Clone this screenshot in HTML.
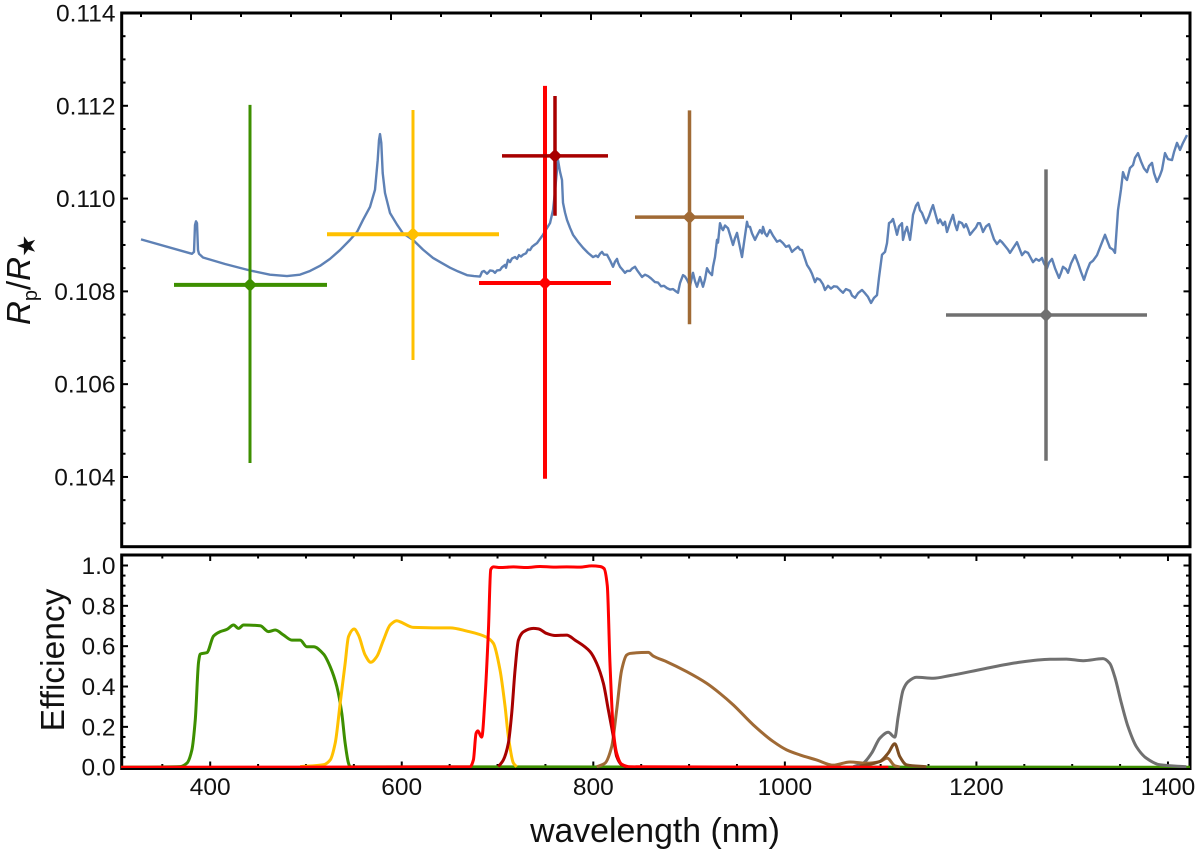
<!DOCTYPE html>
<html lang="en">
<head>
<meta charset="utf-8">
<title>Transmission spectrum and filter efficiency</title>
<style>
html,body{margin:0;padding:0;background:#fff;}
svg{display:block;font-family:"Liberation Sans",Arial,sans-serif;}
</style>
</head>
<body>
<svg id="chart" width="1200" height="856" viewBox="0 0 1200 856" xmlns="http://www.w3.org/2000/svg">
  <defs>
    <clipPath id="clip-top"><rect x="121" y="12" width="1069" height="535"/></clipPath>
    <clipPath id="clip-bottom"><rect x="121" y="554" width="1069" height="214"/></clipPath>
  </defs>
  <g id="top-panel"></g>
  <g id="bottom-panel"></g>
  <text transform="translate(30,325) rotate(-90)" font-size="33" fill="#111"><tspan font-style="italic">R</tspan><tspan font-size="20" dy="7">p</tspan><tspan dy="-7">/</tspan><tspan font-style="italic">R</tspan><tspan font-size="25" dy="5" font-family="'DejaVu Sans',sans-serif">★</tspan></text>
  <text transform="translate(64,660) rotate(-90)" font-size="33.5" text-anchor="middle" fill="#111">Efficiency</text>
  <text x="655" y="842" font-size="33.8" text-anchor="middle" fill="#111">wavelength (nm)</text>
</svg>
<script>
// ---- upper panel: model spectrum ----
const spectrumWave = [
350,401,403,404,405,406,407,408,412,434,
459,479,496,509,
519,529,539,549,559,566,572,579,584,586.7,
588,589,590.3,591.7,594,599,606,612,622,632,
642,650,659,667,676,683,689,691,693,694,
696,697,699,702,704,706,709,711,714,715,
717,719,721,724,726,728,730,732,735,737,
739,741,744,746,749,752,755,757,759,762,
764,766,767,769,771,772,774,776,779,782,
787,792,797,802,805,807,809,811,813,816,
819,822,824,826,827,829,831,834,836,839,
841,844,846,848,851,854,857,860,864,867,
870,873,876,879,882,885,887,889,892,894,
896,899,902,904,906,909,912,914,916,918,
921,922,924,926,927,929,931,932,934,937,
939,942,944,946,948,951,953,956,957,959,
961,964,966,969,971,972,974,976,978,979,
982,986,989,992,995,998,1001,1004,1007,1009,
1011,1014,1016,1019,1021,1024,1026,1029,1032,1034,
1037,1040,1043,1046,1049,1052,1055,1059,1061,1064,
1067,1071,1074,1077,1080,1083,1086,1088,1091,1094,
1096,1097,1098,1100,1102,1104,1106,1108,1111,1112,
1114,1116,1119,1121,1122,1125,1127,1129,1131,1133,
1135,1138,1140,1142,1144,1147,1149,1152,1154,1156,
1159,1162,1164,1166,1168,1171,1173,1175,1177,1179,
1182,1185,1187,1189,1191,1192,1195,1198,1201,1203,
1206,1209,1211,1214,1217,1219,1222,1226,1228,1231,
1234,1237,1239,1242,1245,1248,1251,1253,1256,1258,
1261,1264,1268,1270,1272,1275,1277,1280,1284,1287,
1290,1293,1296,1299,1302,1306,1310,1314,1317,1319,
1322,1324,1327,1330,1332,1334,1336,1339,1342,1344,
1347,1350,1353,1356,1358,1361,1363,1366,1369,1371,
1374,1377,1381,1383,1386,1389,1392,1396];
const spectrumValue = [
.10912,.10881,.10885,.10943,.10951,.10947,.10889,.10881,.10873,.10859,
.10845,.10836,.10833,.10836,
.10844,.10855,.10870,.10889,.10911,.10928,.10954,.10982,.11019,.11083,
.11126,.11139,.11120,.11055,.11012,.10969,.10944,.10925,.10911,.10890,
.10872,.10862,.10851,.10843,.10835,.10833,.10832,.10842,.10844,.10842,
.10838,.10840,.10845,.10844,.10840,.10845,.10846,.10852,.10857,.10851,
.10868,.10863,.10871,.10874,.10870,.10878,.10875,.10879,.10882,.10890,
.10889,.10896,.10901,.10904,.10913,.10922,.10933,.10940,.10947,.10975,
.11015,.11062,.11083,.11058,.11040,.10991,.10970,.10954,.10937,.10922,
.10907,.10894,.10883,.10874,.10877,.10874,.10881,.10885,.10879,.10879,
.10867,.10853,.10864,.10870,.10862,.10853,.10848,.10840,.10844,.10844,
.10849,.10853,.10846,.10840,.10831,.10836,.10833,.10828,.10820,.10819,
.10811,.10812,.10807,.10804,.10805,.10800,.10797,.10818,.10835,.10832,
.10825,.10812,.10840,.10822,.10810,.10831,.10810,.10826,.10850,.10842,
.10835,.10853,.10874,.10911,.10905,.10947,.10935,.10932,.10942,.10936,
.10922,.10900,.10915,.10926,.10905,.10874,.10905,.10950,.10940,.10939,
.10925,.10911,.10920,.10932,.10925,.10939,.10925,.10919,.10928,.10932,
.10920,.10907,.10910,.10904,.10896,.10899,.10885,.10891,.10896,.10890,
.10889,.10870,.10857,.10847,.10838,.10820,.10828,.10825,.10815,.10803,
.10812,.10806,.10811,.10810,.10803,.10797,.10805,.10801,.10791,.10786,
.10796,.10803,.10796,.10788,.10775,.10786,.10792,.10830,.10879,.10885,
.10904,.10925,.10947,.10950,.10956,.10940,.10922,.10940,.10947,.10911,
.10928,.10939,.10911,.10945,.10965,.10985,.10991,.10975,.10969,.10958,
.10947,.10962,.10975,.10986,.10970,.10947,.10955,.10943,.10950,.10928,
.10948,.10965,.10945,.10932,.10950,.10947,.10938,.10945,.10935,.10922,
.10930,.10938,.10947,.10947,.10935,.10928,.10940,.10945,.10925,.10912,
.10902,.10910,.10906,.10898,.10890,.10883,.10893,.10906,.10895,.10878,
.10886,.10883,.10875,.10863,.10870,.10866,.10872,.10860,.10850,.10862,
.10870,.10850,.10829,.10840,.10853,.10848,.10840,.10860,.10878,.10861,
.10842,.10825,.10845,.10861,.10866,.10878,.10900,.10922,.10905,.10894,
.10890,.10883,.10975,.11020,.11057,.11045,.11040,.11066,.11072,.11088,
.11098,.11080,.11065,.11057,.11070,.11077,.11055,.11036,.11050,.11062,
.11098,.11085,.11083,.11100,.11120,.11105,.11120,.11137];

// ---- upper panel: measured points with error bars ----
const pointNames = ['g','r','i','z-narrow','z','j'];
const pointWave = [459,622,754,764,898.5,1255];
const pointWaveLow = [383,536,688,711,844,1155];
const pointWaveHigh = [536,708,820,817,953,1356];
const pointValue = [0.10814,0.10923,0.10818,0.11092,0.10960,0.10749];
const pointValueLow = [0.10430,0.10652,0.10396,0.10963,0.10729,0.10435];
const pointValueHigh = [0.11202,0.11191,0.11243,0.11221,0.11190,0.11063];

// ---- axis ticks ----
const topYTicks = [0.104,0.106,0.108,0.110,0.112,0.114];
const topYTickLabels = ['0.104','0.106','0.108','0.110','0.112','0.114'];
const bottomYTicks = [0,0.2,0.4,0.6,0.8,1.0];
const bottomYTickLabels = ['0.0','0.2','0.4','0.6','0.8','1.0'];
const bottomXTicks = [400,600,800,1000,1200,1400];
const bottomXTickLabels = ['400','600','800','1000','1200','1400'];

// ---- lower panel: filter curves ----
const greenWave = [307,368.7,375.7,380.9,384.4,387.9,389.6,396.6,403.5,410.5,417.4,424.4,429.6,434.8,452.2,460.9,467.9,476.6,485.3,493.9,500.9,507.9,518.3,525.3,532.2,537.4,540.9,544.4,546.1,1423];
const greenEff = [0,0.003,0.02,0.086,0.234,0.523,0.561,0.568,0.65,0.672,0.683,0.705,0.688,0.705,0.701,0.672,0.68,0.655,0.63,0.63,0.597,0.597,0.561,0.498,0.4,0.267,0.119,0.02,0.002,0];
const yellowWave = [493.9,518.3,525.3,530.5,535.7,540.9,544.4,550.3,554.8,561.8,567.7,573.9,580.9,587.9,594.8,598.3,612.2,633.1,650.5,667.9,688.7,695.7,702.6,707.9,711.3,716.6,720];
const yellowEff = [0.003,0.012,0.036,0.119,0.317,0.515,0.647,0.685,0.655,0.556,0.52,0.548,0.63,0.705,0.726,0.721,0.693,0.691,0.691,0.675,0.644,0.614,0.482,0.3,0.152,0.02,0.002];
const grayWave = [1071.4,1081.8,1090.5,1099.2,1107.9,1114.8,1118.3,1123.5,1128.7,1137.4,1154.8,1172.2,1207,1241.8,1276.6,1294,1311.4,1332.2,1339.2,1344.4,1351.4,1358.3,1367,1377.4,1391.4,1419.2];
const grayEff = [0.002,0.02,0.069,0.144,0.173,0.149,0.25,0.383,0.424,0.446,0.441,0.454,0.487,0.518,0.535,0.536,0.528,0.538,0.515,0.449,0.317,0.201,0.102,0.045,0.012,0.002];
const brownWave = [803.5,812.2,819.2,824.4,829.6,834.8,838.3,857.4,862.6,876.6,897.4,918.3,932.2,946.1,967,987.9,1001.8,1015.7,1033.1,1050.5,1067.9,1085.3,1099.2,1106.8,1114.8,1120];
const brownEff = [0.002,0.02,0.102,0.284,0.482,0.556,0.564,0.569,0.551,0.523,0.474,0.416,0.366,0.309,0.21,0.127,0.086,0.061,0.036,0.01,0.026,0.02,0.028,0.045,0.007,0.001];
const leakWave = [1078.3,1099.2,1107.9,1114.8,1120,1127,1147.9];
const leakEff = [0.005,0.028,0.07,0.116,0.053,0.012,0.002];
const darkRedWave = [700.9,706.1,711.3,714.8,718.3,721.8,727,737.4,742.6,751.3,760,772.2,780.9,796.6,803.5,810.5,815.7,820.9,824.4,829.6,834.8];
const darkRedEff = [0.003,0.036,0.119,0.267,0.482,0.63,0.671,0.688,0.686,0.663,0.653,0.655,0.63,0.573,0.515,0.416,0.284,0.152,0.053,0.012,0.002];
const redWave = [307,671.3,674.8,677.6,679.3,683.5,687,690.5,692.9,695.7,702.6,716.6,730.5,744.4,758.3,772.2,786.1,798.3,807,811.2,814.6,817.4,820.9,824.4,829.6,838.3,1108];
const redEff = [0,0.002,0.036,0.168,0.18,0.149,0.35,0.68,0.98,0.993,0.99,0.993,0.99,0.995,0.992,0.993,0.992,0.998,0.995,0.985,0.9,0.515,0.185,0.069,0.015,0.002,0];

// ---- scales ----
function linear(d0,d1,r0,r1){return function(v){return r0+(v-d0)*(r1-r0)/(d1-d0);};}
const topX = linear(330.7,1399,121.7,1190);
const topY = linear(0.114,0.10249,13,547);
const botX = linear(307.6,1423,121.7,1190);
const botY = linear(0,1.052,767.2,555);

const NS = 'http://www.w3.org/2000/svg';
function make(parent,tag,attrs,text){
  const el = document.createElementNS(NS,tag);
  for(const k in attrs){el.setAttribute(k,attrs[k]);}
  if(text!==undefined){el.textContent=text;}
  parent.appendChild(el);
  return el;
}
function tickSeg(parent,name,x1,y1,x2,y2,w){
  const t = make(parent,'line',{x1:x1,y1:y1,x2:x2,y2:y2,stroke:'#000','stroke-width':w});
  
  
}
function linePath(parent,name,wave,vals,sx,sy,color,width,clip){
  let d = '';
  for(let i=0;i<wave.length;i++){
    d += (i?'L':'M')+sx(wave[i]).toFixed(2)+' '+sy(vals[i]).toFixed(2);
  }
  const p = make(parent,'path',{d:d,fill:'none',stroke:color,'stroke-width':width,'stroke-linejoin':'round','clip-path':clip});
  
  
}
// monotone cubic through the data values
function smoothPath(parent,name,wave,vals,sx,sy,color,width,clip){
  const X = wave.map(sx), Y = vals.map(sy), n = X.length;
  const dl = [], h = [], m = [];
  for(let i=0;i<n-1;i++){h[i]=X[i+1]-X[i];dl[i]=(Y[i+1]-Y[i])/h[i];}
  m[0]=dl[0];m[n-1]=dl[n-2];
  for(let i=1;i<n-1;i++){
    if(dl[i-1]*dl[i]<=0){m[i]=0;}
    else{
      const w1=2*h[i]+h[i-1], w2=h[i]+2*h[i-1];
      m[i]=(w1+w2)/(w1/dl[i-1]+w2/dl[i]);
    }
  }
  let d = 'M'+X[0].toFixed(2)+' '+Y[0].toFixed(2);
  for(let i=0;i<n-1;i++){
    d += 'C'+(X[i]+h[i]/3).toFixed(2)+' '+(Y[i]+m[i]*h[i]/3).toFixed(2)+' '+(X[i+1]-h[i]/3).toFixed(2)+' '+(Y[i+1]-m[i+1]*h[i]/3).toFixed(2)+' '+X[i+1].toFixed(2)+' '+Y[i+1].toFixed(2);
  }
  const p = make(parent,'path',{d:d,fill:'none',stroke:color,'stroke-width':width,'stroke-linejoin':'round','clip-path':clip});
  
  
}

const topG = document.getElementById('top-panel');
const botG = document.getElementById('bottom-panel');
const tickFont = 24.5;

// upper ticks
for(let w=350;w<=1399;w+=50){
  const major = (w-400)%200===0;
  tickSeg(topG,'top-x-tick',topX(w),13,topX(w),major?20:17,2);
}
for(let i=0;i<=23;i++){
  const v = 0.1025+i*0.0005;
  const major = i%4===3;
  tickSeg(topG,'top-y-tick-left',121.7,topY(v),major?128:125.5,topY(v),2);
  tickSeg(topG,'top-y-tick-right',1190,topY(v),major?1183.5:1186,topY(v),2);
}
topYTicks.forEach(function(v,i){
  const t = make(topG,'text',{x:115.5,y:topY(v)+8.5,'font-size':tickFont,'text-anchor':'end',fill:'#111'},topYTickLabels[i]);
  
  
});
const topFrame = make(topG,'rect',{x:121.7,y:13,width:1068.3,height:533.7,fill:'none',stroke:'#000','stroke-width':3});



linePath(topG,'model-spectrum-line',spectrumWave,spectrumValue,topX,topY,'#5E81B5',2.4,'url(#clip-top)');

const pointColors = ['#3D8F00','#FFC000','#FF0000','#A80000','#A06A35','#707070'];
const pointWidthH = [4,4,4,3.5,3.5,3.5];
const pointWidthV = [3,3,4,3.5,3.5,3.5];
pointNames.forEach(function(n,i){
  const c = pointColors[i];
  const g = make(topG,'g',{});
  
  
  make(g,'line',{x1:topX(pointWaveLow[i]),x2:topX(pointWaveHigh[i]),y1:topY(pointValue[i]),y2:topY(pointValue[i]),stroke:c,'stroke-width':pointWidthH[i]});
  make(g,'line',{x1:topX(pointWave[i]),x2:topX(pointWave[i]),y1:topY(pointValueLow[i]),y2:topY(pointValueHigh[i]),stroke:c,'stroke-width':pointWidthV[i]});
  const cx = topX(pointWave[i]), cy = topY(pointValue[i]), h = 7;
  make(g,'path',{d:'M'+(cx-h)+' '+cy+'L'+cx+' '+(cy-h)+'L'+(cx+h)+' '+cy+'L'+cx+' '+(cy+h)+'Z',fill:c});
});

// lower ticks
for(let w=350;w<=1400;w+=50){
  const major = (w-400)%200===0;
  tickSeg(botG,'bottom-x-tick-top',botX(w),555,botX(w),major?561:558.5,2);
  tickSeg(botG,'bottom-x-tick-bottom',botX(w),768,botX(w),major?761.5:764,2);
}
for(let i=0;i<=21;i++){
  const v = i*0.05;
  const major = i%4===0;
  tickSeg(botG,'bottom-y-tick-left',121.7,botY(v),major?128:125.5,botY(v),2);
  tickSeg(botG,'bottom-y-tick-right',1190,botY(v),major?1183.5:1186,botY(v),2);
}
bottomYTicks.forEach(function(v,i){
  const t = make(botG,'text',{x:115.5,y:botY(v)+8.5,'font-size':tickFont,'text-anchor':'end',fill:'#111'},bottomYTickLabels[i]);
  
  
});
bottomXTicks.forEach(function(v,i){
  const t = make(botG,'text',{x:botX(v),y:795,'font-size':tickFont,'text-anchor':'middle',fill:'#111'},bottomXTickLabels[i]);
  
  
});
const botFrame = make(botG,'rect',{x:121.7,y:555,width:1068.3,height:213.5,fill:'none',stroke:'#000','stroke-width':3});



smoothPath(botG,'filter-curve-green',greenWave,greenEff,botX,botY,'#3D8F00',3,'url(#clip-bottom)');
smoothPath(botG,'filter-curve-yellow',yellowWave,yellowEff,botX,botY,'#FFC000',3,'url(#clip-bottom)');
smoothPath(botG,'filter-curve-gray',grayWave,grayEff,botX,botY,'#707070',3,'url(#clip-bottom)');
smoothPath(botG,'filter-curve-brown',brownWave,brownEff,botX,botY,'#A06A35',3,'url(#clip-bottom)');
smoothPath(botG,'filter-curve-brown-leak',leakWave,leakEff,botX,botY,'#7D4E22',3,'url(#clip-bottom)');
smoothPath(botG,'filter-curve-dark-red',darkRedWave,darkRedEff,botX,botY,'#A80000',3,'url(#clip-bottom)');
smoothPath(botG,'filter-curve-red',redWave,redEff,botX,botY,'#FF0000',3,'url(#clip-bottom)');
</script>
</body>
</html>
